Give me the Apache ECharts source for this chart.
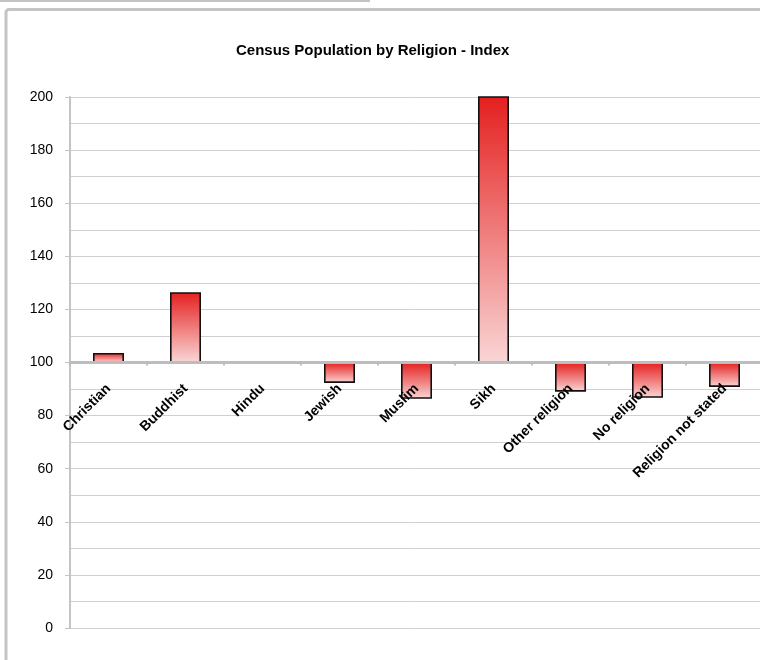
<!DOCTYPE html>
<html>
<head>
<meta charset="utf-8">
<script src="https://cdn.jsdelivr.net/npm/echarts@6/dist/echarts.min.js"></script>
<style>
html,body{margin:0;padding:0;background:#fff;}
#chart{width:760px;height:660px;}
</style>
</head>
<body>
<div id="chart"></div>
<script>
// Data
const categories = ['Christian', 'Buddhist', 'Hindu', 'Jewish', 'Muslim', 'Sikh', 'Other religion', 'No religion', 'Religion not stated'];
const indexValues = [103.6, 126.5, 100, 92.3, 86.3, 230, 89.0, 86.7, 90.8];
const baseIndex = 100;
const yTickLabels = [0, 20, 40, 60, 80, 100, 120, 140, 160, 180, 200];

const FONT = "'Liberation Sans', Arial, sans-serif";
const chart = echarts.init(document.getElementById('chart'), null, {renderer: 'canvas'});

const GRID_TOP = 97, GRID_H = 531;
const option = {
  backgroundColor: '#ffffff',
  animation: false,
  title: {
    text: 'Census Population by Religion - Index',
    left: 231,
    top: 38,
    textStyle: {fontFamily: FONT, fontSize: 15, fontWeight: 'bold', color: '#000'}
  },
  graphic: [
    {type: 'line', shape: {x1: 0, y1: 1, x2: 370, y2: 1}, style: {stroke: '#c4c4c4', lineWidth: 2}, silent: true},
    {type: 'rect', shape: {x: 6, y: 9.5, width: 800, height: 700, r: 3}, style: {fill: null, stroke: '#c4c4c4', lineWidth: 3}, silent: true}
  ],
  grid: {left: 70, top: GRID_TOP, width: 693, height: GRID_H, containLabel: false, outerBoundsMode: 'none'},
  xAxis: {
    type: 'category',
    data: categories,
    z: 5,
    position: 'bottom',
    offset: -GRID_H / 2,
    axisLine: {show: true, onZero: false, lineStyle: {color: '#bdbdbd', width: 3}},
    axisTick: {show: true, alignWithLabel: false, length: 3, lineStyle: {color: '#bdbdbd', width: 2}},
    axisLabel: {
      interval: 0, rotate: 45, margin: 24,
      fontFamily: FONT, fontSize: 14, fontWeight: 'bold', color: '#000'
    },
    splitLine: {show: false}
  },
  yAxis: {
    type: 'value',
    min: -100,
    max: 100,
    interval: 20,
    axisLine: {show: true, lineStyle: {color: '#c4c4c4', width: 2}},
    axisTick: {show: true, length: 5, lineStyle: {color: '#c4c4c4', width: 1}},
    axisLabel: {
      margin: 17,
      fontFamily: FONT, fontSize: 14, color: '#000',
      formatter: function (v) {
        const t = v + baseIndex;
        return yTickLabels.indexOf(t) >= 0 ? String(t) : '';
      }
    },
    splitLine: {show: true, lineStyle: {color: '#d0d0d0', width: 1}},
    minorTick: {show: false, splitNumber: 2},
    minorSplitLine: {show: true, lineStyle: {color: '#d0d0d0', width: 1}}
  },
  series: [{
    type: 'bar',
    z: 2,
    clip: true,
    barWidth: 31,
    data: indexValues.map(v => v - baseIndex),
    itemStyle: {
      borderColor: '#111',
      borderWidth: 1.6,
      color: new echarts.graphic.LinearGradient(0, 0, 0, 1, [
        {offset: 0, color: '#e4201f'},
        {offset: 1, color: '#fad6d6'}
      ])
    }
  }]
};
chart.setOption(option);
</script>
</body>
</html>
